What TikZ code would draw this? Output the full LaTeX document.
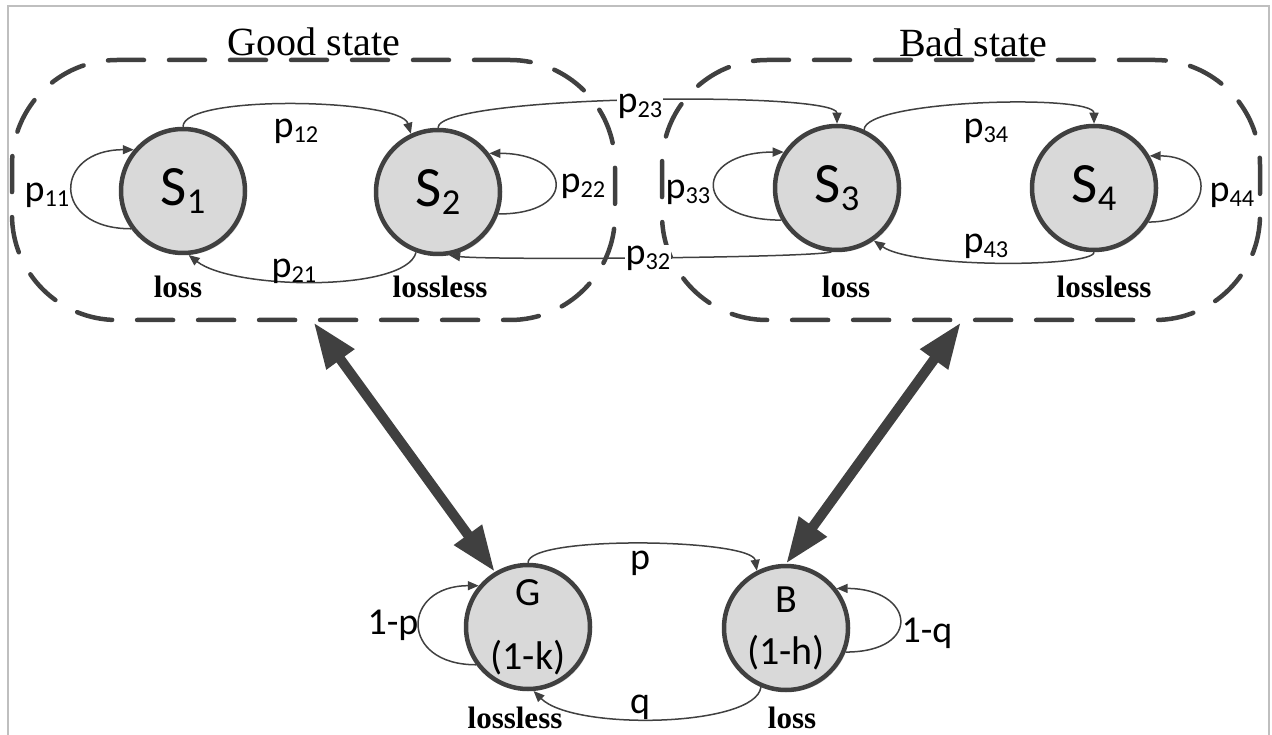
\documentclass[tikz,border=0pt]{standalone}
\usepackage{fontspec}
\setmainfont{Liberation Serif}
\newfontfamily\labelfont{Carlito}
\usepackage{graphicx}
\usetikzlibrary{arrows.meta,shadows}
\definecolor{linegray}{HTML}{404040}
\definecolor{fillgray}{HTML}{D9D9D9}
\definecolor{framegray}{HTML}{BFBFBF}
\newcommand{\lowidx}[1]{\raisebox{-0.14em}{\scalebox{0.64}{#1}}}

\begin{document}
\begin{tikzpicture}[x=1pt, y=1pt,
  statenode/.style={circle, draw=linegray, line width=4.5pt, fill=fillgray, minimum size=124pt, inner sep=0pt,
    drop shadow={shadow xshift=2pt, shadow yshift=-2pt, fill=black!25, opacity=0.5}},
  groupbox/.style={draw=linegray, line width=4.5pt, dash pattern=on 36pt off 25pt, line cap=round,
    rounded corners=105pt, minimum height=260pt, inner sep=0pt},
  arr/.style={draw=linegray, line width=1.5pt, -{Triangle[length=11pt,width=9pt]}},
  bigarr/.style={draw=linegray, line width=10pt, {Triangle[length=46pt,width=32pt]}-{Triangle[length=46pt,width=32pt]}},
  lbl/.style={font=\labelfont\fontsize{38}{38}\selectfont, inner sep=1pt},
  lossnote/.style={font=\bfseries\fontsize{31}{31}\selectfont, inner sep=0pt},
  grouptitle/.style={font=\fontsize{40}{40}\selectfont, inner sep=0pt}]

  \useasboundingbox (0,0) rectangle (1272,-735);
  % Frame
  \draw [framegray, line width=2pt] (8,-735) |- (1269,-6) -- (1269,-735);

  % Groups
  \node [groupbox, minimum width=603pt] (good) at (313.5,-190) {};
  \node [groupbox, minimum width=598pt] (bad) at (961,-190) {};
  \node [grouptitle] (goodtitle) at (314,-42) {Good state};
  \node [grouptitle] (badtitle) at (973,-43) {Bad state};

  % States
  \node [statenode, font=\labelfont\fontsize{57}{57}\selectfont] (S1) at (183,-191) {S\lowidx{1}};
  \node [statenode, font=\labelfont\fontsize{57}{57}\selectfont] (S2) at (438,-192) {S\lowidx{2}};
  \node [statenode, font=\labelfont\fontsize{57}{57}\selectfont] (S3) at (837,-188) {S\lowidx{3}};
  \node [statenode, font=\labelfont\fontsize{57}{57}\selectfont] (S4) at (1094,-188) {S\lowidx{4}};
  \node [statenode, align=center, font=\labelfont\fontsize{40}{64}\selectfont] (G) at (528,-627) {G\\(1-k)};
  \node [statenode, align=center, font=\labelfont\fontsize{40}{52}\selectfont] (B) at (786,-628) {B\\(1-h)};

  % Transitions
  \draw [arr] (S1.north) .. controls +(0,33) and +(-10,35) .. (S2.115);
  \draw [arr] (S2.-110) .. controls +(-10,-40) and +(45,-35) .. (S1.-85);
  \draw [arr] (S2.north) .. controls +(0,33) and +(0,33) .. (S3.north);
  \draw [arr] (S3.-95) .. controls +(-25,-6) and +(40,-5) .. (S2.-80);
  \draw [arr] (S3.65) .. controls +(0,30) and +(0,30) .. (S4.north);
  \draw [arr] (S4.south) .. controls +(0,-15) and +(40,-28) .. (S3.-55);
  \draw [arr] (S1.216) to [out=180, in=180, looseness=2.6] (S1.140);
  \draw [arr] (S2.-20) to [out=0, in=0, looseness=3.4] (S2.37);
  \draw [arr] (S3.210) to [out=180, in=180, looseness=3.4] (S3.146);
  \draw [arr] (S4.-32) to [out=0, in=0, looseness=2.6] (S4.30);

  \draw [arr] (G.north) .. controls +(0,28) and +(-5,32) .. (B.117);
  \draw [arr] (B.-113) .. controls +(-5,-40) and +(40,-40) .. (G.-85);
  \draw [arr] (G.216) to [out=180, in=180, looseness=2.5] (G.140);
  \draw [arr] (B.-22) to [out=0, in=0, looseness=3.1] (B.38);

  % Links between the two models
  \draw [bigarr] (good.south) -- (G.121);
  \draw [bigarr] (bad.south) -- (B.north);

  % Labels
  \node [lbl] (l11) at (47,-195) {p\lowidx{11}};
  \node [lbl] (l12) at (296,-131) {p\lowidx{12}};
  \node [lbl] (l21) at (294,-271) {p\lowidx{21}};
  \node [lbl] (l22) at (583,-186) {p\lowidx{22}};
  \node [lbl, fill=white] (l23) at (640,-106) {p\lowidx{23}};
  \node [lbl, fill=white] (l32) at (648,-258) {p\lowidx{32}};
  \node [lbl] (l33) at (688,-192) {p\lowidx{33}};
  \node [lbl] (l34) at (986,-131) {p\lowidx{34}};
  \node [lbl] (l43) at (986,-246) {p\lowidx{43}};
  \node [lbl] (l44) at (1232,-195) {p\lowidx{44}};
  \node [lbl] (lp) at (640,-563) {p};
  \node [lbl] (lq) at (640,-707) {q};
  \node [lbl] (l1p) at (393,-625) {1-p};
  \node [lbl] (l1q) at (927,-633) {1-q};

  \node [lossnote] (n1) at (178,-287) {loss};
  \node [lossnote] (n2) at (440,-287) {lossless};
  \node [lossnote] (n3) at (846,-287) {loss};
  \node [lossnote] (n4) at (1104,-287) {lossless};
  \node [lossnote] (nG) at (515,-718) {lossless};
  \node [lossnote] (nB) at (792,-718) {loss};
\end{tikzpicture}
\end{document}
